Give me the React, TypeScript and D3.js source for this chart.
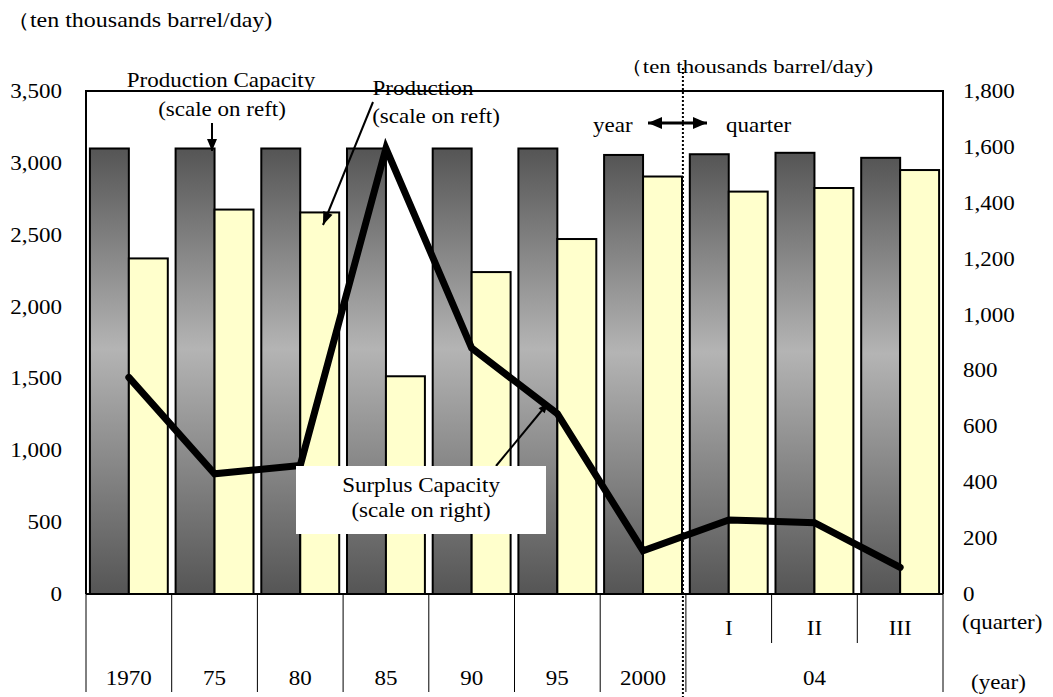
import React from "react";
import * as d3 from "d3";

const categories = ["1970", "75", "80", "85", "90", "95", "2000", "I", "II", "III"];
const capacity = [3100, 3100, 3100, 3100, 3100, 3100, 3055, 3060, 3070, 3035];
const production = [2335, 2675, 2655, 1515, 2240, 2470, 2905, 2800, 2825, 2950];
const surplus = [775, 430, 460, 1595, 880, 645, 155, 265, 255, 95];
const leftTicks = [0, 500, 1000, 1500, 2000, 2500, 3000, 3500];
const rightTicks = [0, 200, 400, 600, 800, 1000, 1200, 1400, 1600, 1800];
const yearLabels = ["1970", "75", "80", "85", "90", "95", "2000"];
const quarterLabels = ["I", "II", "III"];
const quarterYear = "04";
const unitText = "（ten thousands barrel/day)";

const W = 1053, H = 697;
const L = 86, R = 943, T = 91, B = 594;
const FONT = "'Liberation Serif', 'Times New Roman', serif";
const SX = 1.15;

function Txt({ x, y, children, anchor = "start", size = 20, sx = SX }: any) {
  return (
    <text
      transform={`translate(${x},${y}) scale(${sx},1)`}
      textAnchor={anchor}
      fontFamily={FONT}
      fontSize={size}
      fill="#000"
    >
      {children}
    </text>
  );
}

function Arrow({ x1, y1, x2, y2, head = 12, hw = 5, sw = 2, both = false }: any) {
  const ang = Math.atan2(y2 - y1, x2 - x1);
  const headPts = (px: number, py: number, a: number) => {
    const bx = px - head * Math.cos(a), by = py - head * Math.sin(a);
    const nx = -Math.sin(a) * hw, ny = Math.cos(a) * hw;
    return `${px},${py} ${bx + nx},${by + ny} ${bx - nx},${by - ny}`;
  };
  return (
    <g>
      <line x1={x1} y1={y1} x2={x2} y2={y2} stroke="#000" strokeWidth={sw} />
      <polygon points={headPts(x2, y2, ang)} fill="#000" />
      {both && <polygon points={headPts(x1, y1, ang + Math.PI)} fill="#000" />}
    </g>
  );
}

export default function App() {
  const x = d3.scaleBand<string>().domain(categories).range([L, R]).padding(0);
  const x1 = d3.scaleBand<string>().domain(["cap", "prod"]).range([0, x.bandwidth()]).paddingInner(0).paddingOuter(0.1);
  const yL = d3.scaleLinear().domain([0, 3500]).range([B, T]);
  const yR = d3.scaleLinear().domain([0, 1800]).range([B, T]);
  const line = d3
    .line<number>()
    .x((_, i) => (x(categories[i]) as number) + x.bandwidth() / 2)
    .y((d) => yR(d));

  const bw = x.bandwidth();
  const qStart = x("I") as number;
  const dotX = qStart - 3;

  return (
    <svg width={W} height={H} style={{ position: "absolute", left: 0, top: 0, background: "#fff" }}>
      <defs>
        <linearGradient id="capGrad" x1="0" y1="0" x2="0" y2="1">
          <stop offset="0%" stopColor="#555555" />
          <stop offset="45%" stopColor="#b4b4b4" />
          <stop offset="100%" stopColor="#555555" />
        </linearGradient>
      </defs>
      <rect x={0} y={0} width={W} height={H} fill="#fff" />

      {/* frame */}
      <path d={`M${L},${B} V${T} H${R} V${B}`} fill="none" stroke="#000" strokeWidth={2} />

      {/* bars */}
      {categories.map((c, i) => (
        <g key={c}>
          <rect
            x={(x(c) as number) + (x1("cap") as number)}
            y={yL(capacity[i])}
            width={x1.bandwidth()}
            height={B - yL(capacity[i])}
            fill="url(#capGrad)"
            stroke="#000"
            strokeWidth={2}
          />
          <rect
            x={(x(c) as number) + (x1("prod") as number)}
            y={yL(production[i])}
            width={x1.bandwidth()}
            height={B - yL(production[i])}
            fill="#ffffcc"
            stroke="#000"
            strokeWidth={2}
          />
        </g>
      ))}

      {/* x axis line */}
      <line x1={L} x2={R} y1={B} y2={B} stroke="#000" strokeWidth={2} />

      {/* surplus line */}
      <path d={line(surplus) as string} fill="none" stroke="#000" strokeWidth={7} strokeLinejoin="miter" strokeLinecap="round" />

      {/* dotted divider */}
      <line x1={dotX} x2={dotX} y1={68} y2={H} stroke="#000" strokeWidth={2} strokeDasharray="2,2" />

      {/* left ticks */}
      {leftTicks.map((t) => (
        <Txt key={"l" + t} x={62} y={yL(t) + 7} anchor="end">
          {d3.format(",")(t)}
        </Txt>
      ))}
      {/* right ticks */}
      {rightTicks.map((t) => (
        <Txt key={"r" + t} x={963} y={yR(t) + 7}>
          {d3.format(",")(t)}
        </Txt>
      ))}

      {/* bottom category table */}
      {yearLabels.map((c, i) => (
        <line key={"yl" + c} x1={x(c) as number} x2={x(c) as number} y1={B} y2={692} stroke="#000" strokeWidth={1} />
      ))}
      <line x1={qStart} x2={qStart} y1={B} y2={692} stroke="#000" strokeWidth={1} />
      <line x1={R} x2={R} y1={B} y2={692} stroke="#000" strokeWidth={1} />
      {quarterLabels.slice(1).map((c) => (
        <line key={"ql" + c} x1={x(c) as number} x2={x(c) as number} y1={B} y2={643} stroke="#000" strokeWidth={1} />
      ))}
      {yearLabels.map((c) => (
        <Txt key={"yt" + c} x={(x(c) as number) + bw / 2} y={685} anchor="middle">
          {c}
        </Txt>
      ))}
      {quarterLabels.map((c) => (
        <Txt key={"qt" + c} x={(x(c) as number) + bw / 2} y={635} anchor="middle">
          {c}
        </Txt>
      ))}
      <Txt x={(qStart + R) / 2} y={685} anchor="middle">
        {quarterYear}
      </Txt>
      <Txt x={962} y={629}>(quarter)</Txt>
      <Txt x={971} y={689}>(year)</Txt>

      {/* unit labels */}
      <Txt x={6} y={27} size={20} sx={1.2}>{unitText}</Txt>
      <Txt x={620} y={73} size={19} sx={1.2}>{unitText}</Txt>

      {/* annotations */}
      <Txt x={221} y={87} anchor="middle">Production Capacity</Txt>
      <Txt x={222} y={116} anchor="middle">(scale on reft)</Txt>
      <Arrow x1={212} y1={123} x2={212} y2={151} head={12} hw={5} sw={2} />

      <Arrow x1={373} y1={102} x2={323} y2={225} head={13} hw={5} sw={2} />
      <Txt x={423} y={95} anchor="middle">Production</Txt>
      <Txt x={436} y={123} anchor="middle">(scale on reft)</Txt>

      <Txt x={593} y={132}>year</Txt>
      <Arrow x1={648} y1={123} x2={707} y2={123} head={14} hw={6} sw={3} both={true} />
      <Txt x={726} y={132}>quarter</Txt>

      <Arrow x1={496} y1={466} x2={548} y2={403} head={10} hw={4} sw={2} />
      <rect x={296} y={466} width={250} height={68} fill="#fff" />
      <Txt x={421} y={492} anchor="middle">Surplus Capacity</Txt>
      <Txt x={421} y={517} anchor="middle">(scale on right)</Txt>
    </svg>
  );
}
